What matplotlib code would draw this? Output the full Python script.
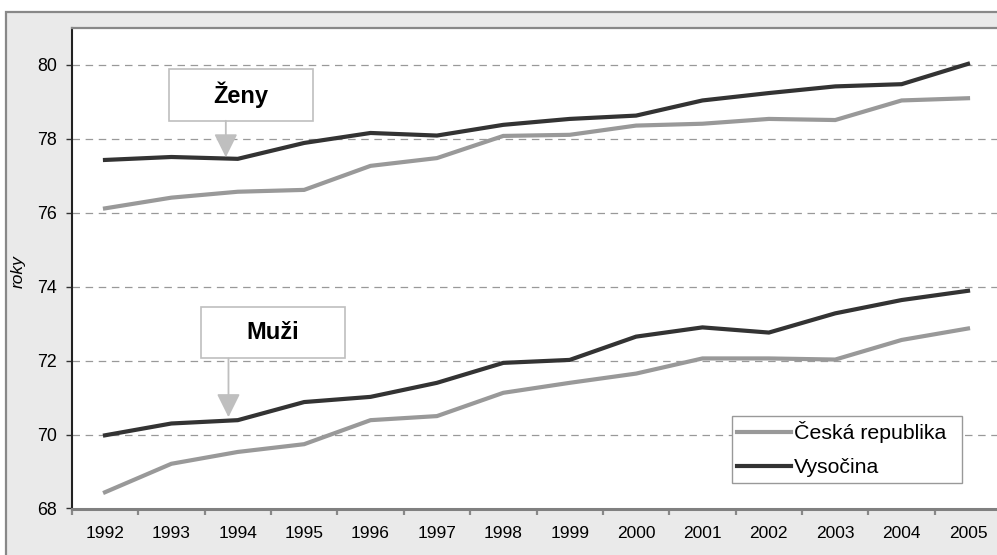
import matplotlib
matplotlib.use("Agg")
import matplotlib.pyplot as plt
from matplotlib.patches import Rectangle

plt.rcParams['font.family'] = ['Liberation Sans', 'DejaVu Sans']

years = ['1992', '1993', '1994', '1995', '1996', '1997', '1998', '1999',
         '2000', '2001', '2002', '2003', '2004', '2005']
zeny_cr = [76.12, 76.41, 76.57, 76.62, 77.27, 77.48, 78.08, 78.11,
           78.36, 78.41, 78.54, 78.51, 79.04, 79.10]
zeny_vys = [77.43, 77.51, 77.46, 77.89, 78.16, 78.09, 78.38, 78.54,
            78.63, 79.04, 79.24, 79.42, 79.48, 80.03]
muzi_cr = [68.44, 69.21, 69.53, 69.74, 70.39, 70.50, 71.13, 71.40,
           71.65, 72.06, 72.06, 72.03, 72.56, 72.87]
muzi_vys = [69.98, 70.30, 70.39, 70.88, 71.02, 71.40, 71.94, 72.02,
            72.65, 72.90, 72.76, 73.28, 73.64, 73.89]
series_names = ['Česká republika', 'Vysočina']
y_ticks = [68, 70, 72, 74, 76, 78, 80]

W, H = 997, 555
fig = plt.figure(figsize=(W / 100, H / 100), dpi=100)
fig.patch.set_facecolor('white')

# outer frame
frame = Rectangle((6 / W, -0.1), 1.2, (H - 12) / H + 0.1,
                  transform=fig.transFigure, facecolor='#EAEAEA',
                  edgecolor='#888888', linewidth=1.6, zorder=0)
fig.patches.append(frame)

AX_L, AX_R, AX_T, AX_B = 71.8, 1001.2, 28.0, 508.5
ax = fig.add_axes([AX_L / W, 1 - AX_B / H, (AX_R - AX_L) / W, (AX_B - AX_T) / H])
ax.set_zorder(2)
ax.set_facecolor('white')

x = list(range(len(years)))
c_cr = '#999999'
c_vys = '#333333'
lw = 3.0
ax.plot(x, zeny_cr, color=c_cr, lw=lw, zorder=3, solid_joinstyle='miter')
ax.plot(x, zeny_vys, color=c_vys, lw=lw, zorder=3, solid_joinstyle='miter')
l1, = ax.plot(x, muzi_cr, color=c_cr, lw=lw, zorder=3, solid_joinstyle='miter')
l2, = ax.plot(x, muzi_vys, color=c_vys, lw=lw, zorder=3, solid_joinstyle='miter')

ax.set_xlim(-0.5, len(years) - 0.5)
ax.set_ylim(68, 81)

for yv in y_ticks[1:]:
    ax.axhline(yv, color='#999999', lw=0.9, dashes=(6, 4.5), zorder=1)

ax.set_yticks(y_ticks)
ax.tick_params(axis='y', direction='out', length=4.5, width=1.0, color='#333333',
               pad=6, labelsize=12.8)
ax.set_xticks(x)
ax.set_xticklabels(years)
ax.tick_params(axis='x', which='major', length=0, pad=12.5, labelsize=12.5)
ax.set_xticks([i - 0.5 for i in range(len(years) + 1)], minor=True)
ax.tick_params(axis='x', which='minor', direction='out', length=4, width=1.6,
               color='#888888')

ax.spines['left'].set_color('#222222')
ax.spines['left'].set_linewidth(1.5)
ax.spines['bottom'].set_color('#808080')
ax.spines['bottom'].set_linewidth(2.2)
ax.spines['top'].set_color('#888888')
ax.spines['top'].set_linewidth(1.6)
ax.spines['right'].set_color('#888888')

fig.text(18 / W, 1 - 272 / H, 'roky', rotation=90, style='italic',
         fontsize=12.5, ha='center', va='center', zorder=5)

# annotation boxes
def label_box(x0, x1, y0, y1, text, ax_x, tip_y):
    ax.add_patch(Rectangle((x0, y0), x1 - x0, y1 - y0, facecolor='white',
                           edgecolor='#BFBFBF', lw=1.2, zorder=4))
    ax.text((x0 + x1) / 2, (y0 + y1) / 2, text, ha='center', va='center',
            fontsize=17, fontweight='bold', zorder=5)
    ax.annotate('', xy=(ax_x, tip_y), xytext=(ax_x, y0),
                arrowprops=dict(arrowstyle='-|>,head_length=1.45,head_width=0.72',
                                color='#BFBFBF', lw=1.3, shrinkA=0, shrinkB=0),
                zorder=5)

label_box(0.96, 3.13, 78.49, 79.90, 'Ženy', 1.82, 77.50)
label_box(1.44, 3.62, 72.06, 73.46, 'Muži', 1.86, 70.47)

# legend box in pixel coordinates of the figure -> axes fraction
lx0, lx1, ly0, ly1 = 731.7, 962.3, 415.7, 482.7
bx = (lx0 - AX_L) / (AX_R - AX_L)
bw = (lx1 - lx0) / (AX_R - AX_L)
by = 1 - (ly1 - AX_T) / (AX_B - AX_T)
bh = (ly1 - ly0) / (AX_B - AX_T)
leg = ax.legend([l1, l2], series_names, loc='upper left',
                bbox_to_anchor=(bx, by, bw, bh), mode='expand',
                fontsize=15.3, frameon=True, fancybox=False, framealpha=1,
                edgecolor='#999999', handlelength=2.55, handletextpad=0.15,
                borderpad=0.25, labelspacing=0.72, borderaxespad=0)
leg.get_frame().set_linewidth(1.0)
for h in leg.get_lines():
    h.set_linewidth(3.0)
leg.set_zorder(6)

fig.savefig('out.png', dpi=100)
